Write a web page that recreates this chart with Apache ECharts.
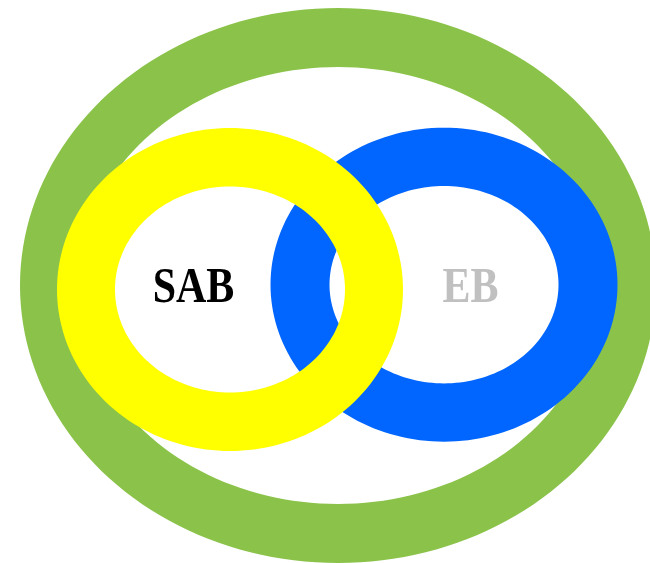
<!DOCTYPE html>
<html>
<head>
<meta charset="utf-8">
<script src="https://cdn.jsdelivr.net/npm/echarts@6/dist/echarts.min.js"></script>
<style>
  html, body { margin: 0; padding: 0; background: #ffffff; }
  #chart { width: 650px; height: 563px; }
</style>
</head>
<body>
<div id="chart"></div>
<script>
// Sets (drawn back to front): outer universe, EB, SAB
const setNames   = ['Universe', 'EB', 'SAB'];
const centerX    = [338, 444, 230];
const centerY    = [285.5, 284.7, 289.5];
const outerRX    = [318, 173.5, 173];
const outerRY    = [277.5, 157, 161.5];
const innerRX    = [260, 114.5, 115];
const innerRY    = [218.5, 98.7, 103];

// Labels
const labelNames = ['SAB', 'EB'];
const labelX     = [193.5, 470.5];
const labelY     = [289, 289];

const ringColors  = ['#8BC34A', '#0066FF', '#FFFF00'];
const labelColors = ['#000000', '#C0C0C0'];

const ringData = setNames.map((n, i) => ({
  name: n,
  value: [centerX[i], centerY[i], outerRX[i], outerRY[i], innerRX[i], innerRY[i]]
}));
const labelData = labelNames.map((n, i) => ({ name: n, value: [labelX[i], labelY[i]] }));

function ellipsePath(cx, cy, rx, ry, reverse) {
  const N = 180;
  let d = '';
  for (let k = 0; k <= N; k++) {
    const t = (reverse ? -1 : 1) * k / N * Math.PI * 2;
    const x = cx + rx * Math.cos(t);
    const y = cy + ry * Math.sin(t);
    d += (k === 0 ? 'M' : 'L') + x.toFixed(2) + ' ' + y.toFixed(2) + ' ';
  }
  return d + 'Z ';
}

const chart = echarts.init(document.getElementById('chart'), null, { renderer: 'canvas' });
chart.setOption({
  animation: false,
  backgroundColor: '#ffffff',
  grid: { left: 0, right: 0, top: 0, bottom: 0 },
  xAxis: { type: 'value', min: 0, max: 650, show: false },
  yAxis: { type: 'value', min: 0, max: 563, inverse: true, show: false },
  series: [
    {
      type: 'custom',
      coordinateSystem: 'cartesian2d',
      data: ringData,
      clip: false,
      renderItem: function (params, api) {
        const c = api.coord([api.value(0), api.value(1)]);
        const o = api.size([api.value(2), api.value(3)]);
        const inn = api.size([api.value(4), api.value(5)]);
        const d = ellipsePath(c[0], c[1], o[0], o[1], false) +
                  ellipsePath(c[0], c[1], inn[0], inn[1], true);
        return {
          type: 'path',
          shape: { pathData: d },
          style: { fill: ringColors[params.dataIndex], stroke: null }
        };
      }
    },
    {
      type: 'custom',
      coordinateSystem: 'cartesian2d',
      data: labelData,
      clip: false,
      z: 5,
      renderItem: function (params, api) {
        const p = api.coord([api.value(0), api.value(1)]);
        return {
          type: 'text',
          x: p[0],
          y: p[1],
          scaleX: 0.84,
          style: {
            text: labelNames[params.dataIndex],
            font: 'bold 50px "Liberation Serif", serif',
            fill: labelColors[params.dataIndex],
            align: 'center',
            verticalAlign: 'middle'
          }
        };
      }
    }
  ]
});
</script>
</body>
</html>
